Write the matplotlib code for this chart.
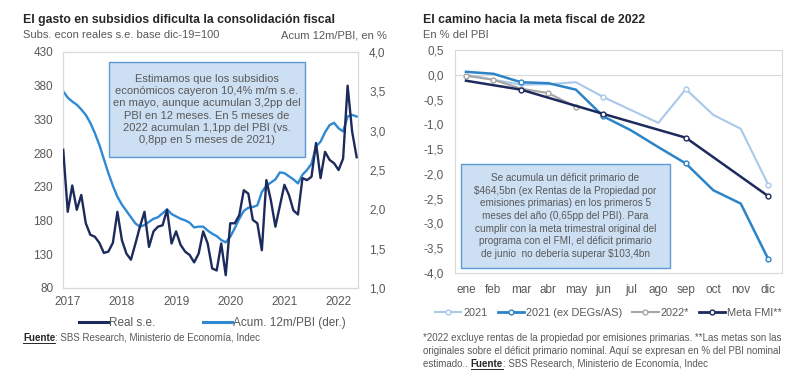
import matplotlib
matplotlib.use("Agg")
import matplotlib.pyplot as plt
from matplotlib.patches import Rectangle
from matplotlib.lines import Line2D

plt.rcParams["font.family"] = ["Liberation Sans", "DejaVu Sans"]

# ── data: left chart (monthly, dic-2016 .. may-2022) ─────────────────────────
real_se = [285, 193, 232, 196, 218, 176, 159, 156, 147, 132, 134, 147,
           193, 151, 131, 122, 146, 171, 193, 141, 164, 171, 173, 196,
           146, 164, 144, 134, 129, 118, 131, 164, 146, 109, 106, 146,
           99, 176, 176, 188, 225, 220, 181, 176, 136, 240, 210, 171,
           202, 233, 218, 195, 189, 243, 240, 245, 295, 243, 282, 270,
           265, 255, 272, 380, 312, 274]
acum_12m = [3.50, 3.42, 3.37, 3.33, 3.27, 3.20, 3.10, 2.97, 2.82, 2.64, 2.46, 2.30,
            2.16, 2.06, 1.98, 1.90, 1.82, 1.78, 1.80, 1.84, 1.88, 1.90, 1.95, 2.00,
            1.94, 1.91, 1.88, 1.86, 1.83, 1.77, 1.78, 1.78, 1.73, 1.69, 1.66, 1.61,
            1.58, 1.65, 1.76, 1.88, 1.98, 2.02, 2.03, 2.05, 2.22, 2.30, 2.34, 2.38,
            2.47, 2.46, 2.42, 2.38, 2.33, 2.44, 2.50, 2.58, 2.80, 2.86, 2.98, 3.07,
            3.10, 3.03, 2.99, 3.18, 3.20, 3.18]
year_labels = ["2017", "2018", "2019", "2020", "2021", "2022"]
year_pos = [1, 13, 25, 37, 49, 61]
left_ticks = [80, 130, 180, 230, 280, 330, 380, 430]
right_ticks = [1.0, 1.5, 2.0, 2.5, 3.0, 3.5, 4.0]
right_ticklabels = ["1,0", "1,5", "2,0", "2,5", "3,0", "3,5", "4,0"]

# ── data: right chart ────────────────────────────────────────────────────────
months = ["ene", "feb", "mar", "abr", "may", "jun", "jul", "ago", "sep", "oct", "nov", "dic"]
s2021 = [0.0, -0.1, -0.2, -0.19, -0.15, -0.45, -0.71, -0.97, -0.29, -0.81, -1.09, -2.22]
s2021_ex = [0.06, 0.02, -0.15, -0.17, -0.30, -0.84, -1.12, -1.46, -1.79, -2.33, -2.60, -3.72]
s2022 = [-0.02, -0.10, -0.28, -0.37, -0.65]
meta_x = [0, 2, 5, 8, 11]
meta_fmi = [-0.12, -0.30, -0.79, -1.27, -2.45]
r_ticks = [0.5, 0.0, -0.5, -1.0, -1.5, -2.0, -2.5, -3.0, -3.5, -4.0]
r_ticklabels = ["0,5", "0,0", "-0,5", "-1,0", "-1,5", "-2,0", "-2,5", "-3,0", "-3,5", "-4,0"]

W, H = 800, 381
NAVY = "#1c2a5c"
BLUE = "#3089d3"
LIGHT = "#a9c9ea"
MID = "#2c84c7"
GREY = "#a6a6a6"
TXT = "#595959"
FRAME = "#d9d9d9"


def fx(x):
    return x / W


def fy(y):
    return 1 - y / H


def frame(ax):
    for sp in ax.spines.values():
        sp.set_color(FRAME)
        sp.set_linewidth(0.8)
    ax.tick_params(length=0, colors=TXT, labelsize=8.5)


fig = plt.figure(figsize=(8, 3.81), dpi=100)

# ── left chart ───────────────────────────────────────────────────────────────
ax1 = fig.add_axes([fx(63), fy(288), (358 - 63) / W, (288 - 52) / H])
ax2 = ax1.twinx()
ax1.plot(range(len(real_se)), real_se, color=NAVY, lw=1.7, zorder=3)
ax2.plot(range(len(acum_12m)), acum_12m, color=BLUE, lw=1.7)
ax1.set_zorder(ax2.get_zorder() + 1)
ax1.patch.set_visible(False)
ax1.set_xlim(-0.05, 65.3)
ax1.set_ylim(80, 430)
ax2.set_ylim(1.0, 4.0)
ax1.set_yticks(left_ticks)
ax2.set_yticks(right_ticks)
ax2.set_yticklabels(right_ticklabels)
ax1.set_xticks(year_pos)
ax1.set_xticklabels(year_labels)
frame(ax1)
frame(ax2)
ax1.tick_params(axis="y", pad=7)
ax2.tick_params(axis="y", pad=8)
ax1.tick_params(axis="x", pad=6)

fig.text(fx(23), fy(20), "El gasto en subsidios dificulta la consolidación fiscal",
         fontsize=8.8, fontweight="bold", color="#262626", va="center")
fig.text(fx(23), fy(35), "Subs. econ reales s.e. base dic-19=100",
         fontsize=8, color=TXT, va="center")
fig.text(fx(387), fy(35), "Acum 12m/PBI, en %", fontsize=8, color=TXT,
         va="center", ha="right")

fig.patches.append(Rectangle((fx(109), fy(157)), (305 - 109) / W, (157 - 62) / H,
                             transform=fig.transFigure, facecolor="#cddff3",
                             edgecolor="#5c9ad6", lw=1.0, zorder=5))
fig.text(fx(207), fy(109.5),
         "Estimamos que los subsidios\neconómicos cayeron 10,4% m/m s.e.\n"
         "en mayo, aunque acumulan 3,2pp del\nPBI en 12 meses. En 5 meses de\n"
         "2022 acumulan 1,1pp del PBI (vs.\n0,8pp en 5 meses de 2021)",
         fontsize=8, color=TXT, ha="center", va="center", linespacing=1.28, zorder=6)

h1 = Line2D([], [], color=NAVY, lw=2.2)
h2 = Line2D([], [], color=BLUE, lw=2.2)
fig.legend([h1, h2], ["Real s.e.", "Acum. 12m/PBI (der.)"], ncol=2,
           loc="center left", bbox_to_anchor=(fx(68), fy(323)), frameon=False,
           fontsize=8.5, handlelength=2.5, handletextpad=0.1, columnspacing=4.0,
           labelcolor=TXT)

# ── right chart ──────────────────────────────────────────────────────────────
ax3 = fig.add_axes([fx(455), fy(273), (782 - 455) / W, (273 - 50) / H])
mk = dict(marker="o", markersize=3.5, markerfacecolor="white", markeredgewidth=1)
ax3.axhline(0, color=FRAME, lw=0.8, zorder=1)
ax3.plot(range(12), s2021, color=LIGHT, lw=1.5, markevery=[5, 8, 11], **mk)
ax3.plot(range(12), s2021_ex, color=MID, lw=1.8, markevery=[2, 5, 8, 11], **mk)
ax3.plot(range(len(s2022)), s2022, color=GREY, lw=1.5, **mk)
ax3.plot(meta_x, meta_fmi, color=NAVY, lw=1.8, markevery=[1, 2, 3, 4], **mk)
ax3.set_xlim(-0.4, 11.5)
ax3.set_ylim(-4.0, 0.5)
ax3.set_yticks(r_ticks)
ax3.set_yticklabels(r_ticklabels)
ax3.set_xticks(range(12))
ax3.set_xticklabels(months)
frame(ax3)
ax3.tick_params(axis="y", pad=8)
ax3.tick_params(axis="x", pad=8)

fig.text(fx(423), fy(20), "El camino hacia la meta fiscal de 2022",
         fontsize=8.8, fontweight="bold", color="#262626", va="center")
fig.text(fx(423), fy(35), "En % del PBI", fontsize=8, color=TXT, va="center")

fig.patches.append(Rectangle((fx(461), fy(268)), (670 - 461) / W, (268 - 164) / H,
                             transform=fig.transFigure, facecolor="#cddff3",
                             edgecolor="#5c9ad6", lw=1.0, zorder=5))
fig.text(fx(565.5), fy(216),
         "Se acumula un déficit primario de\n$464,5bn (ex Rentas de la Propiedad por\n"
         "emisiones primarias) en los primeros 5\nmeses del año (0,65pp del PBI). Para\n"
         "cumplir con la meta trimestral original del\nprograma con el FMI, el déficit primario\n"
         "de junio  no debería superar $103,4bn",
         fontsize=7.2, color=TXT, ha="center", va="center", linespacing=1.33, zorder=6)

lh = [Line2D([], [], color=c, lw=lw, marker="o", markersize=3.5,
             markerfacecolor="white", markeredgewidth=1)
      for c, lw in [(LIGHT, 1.5), (MID, 2.0), (GREY, 1.5), (NAVY, 2.0)]]
fig.legend(lh, ["2021", "2021 (ex DEGs/AS)", "2022*", "Meta FMI**"], ncol=4,
           loc="center left", bbox_to_anchor=(fx(425), fy(313)), frameon=False,
           fontsize=7.9, handlelength=2.4, handletextpad=0.2, columnspacing=0.9,
           labelcolor=TXT)

# ── footnotes ────────────────────────────────────────────────────────────────
renderer = fig.canvas.get_renderer()


def fuente(x, y, size, prefix=""):
    cur = x
    if prefix:
        t0 = fig.text(fx(cur), fy(y), prefix, fontsize=size, color=TXT, va="center")
        cur = t0.get_window_extent(renderer).x1
    t = fig.text(fx(cur), fy(y), "Fuente", fontsize=size, color="#262626",
                 fontweight="bold", va="center")
    bb = t.get_window_extent(renderer)
    fig.add_artist(Line2D([bb.x0 / W, bb.x1 / W], [(bb.y0 + 0.5) / H] * 2,
                          color="#262626", lw=0.7))
    fig.text(bb.x1 / W, fy(y), ": SBS Research, Ministerio de Economía, Indec",
             fontsize=size, color=TXT, va="center")


fuente(23, 338, 7)
fig.text(fx(423), fy(338),
         "*2022 excluye rentas de la propiedad por emisiones primarias. **Las metas son las",
         fontsize=7.05, color=TXT, va="center")
fig.text(fx(423), fy(351),
         "originales sobre el déficit primario nominal. Aquí se expresan en % del PBI nominal",
         fontsize=7.05, color=TXT, va="center")
fuente(423, 364, 7.05, prefix="estimado.. ")

fig.savefig("out.png", dpi=100)
